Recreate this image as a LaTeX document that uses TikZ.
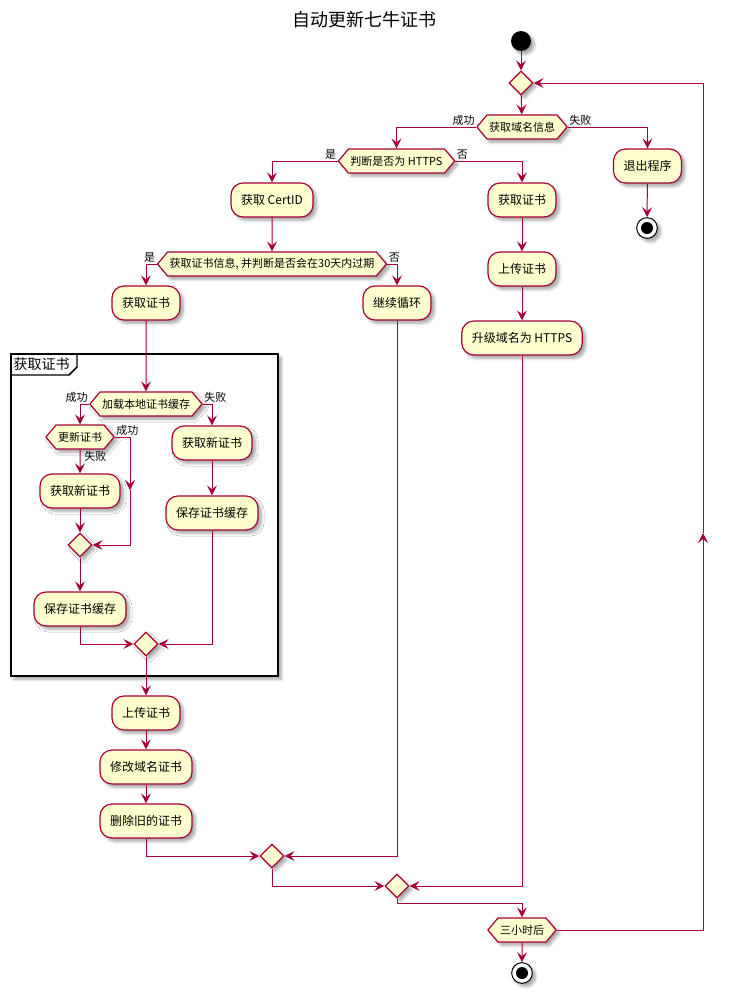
\documentclass[tikz,border=0pt]{standalone}
\usepackage{fontspec}
\setmainfont{Noto Sans CJK SC}
\usepackage{tikz}
\usetikzlibrary{arrows.meta,positioning,calc,shapes.geometric,shapes.symbols,shadows.blur}
\definecolor{umlred}{HTML}{A80036}
\definecolor{umlfill}{HTML}{FEFECE}

\begin{document}
\begin{tikzpicture}[
  x=0.75pt, y=-0.75pt,
  arr/.style={-{Stealth[length=7.5pt,width=7.5pt,inset=3pt]}, draw=umlred, line width=0.75pt},
  shad/.style={blur shadow={shadow xshift=2.5pt, shadow yshift=-2.5pt, shadow blur steps=6, shadow opacity=35}},
  act/.style={shad, draw=umlred, fill=umlfill, line width=0.9pt, rounded corners=9pt,
    font=\fontsize{9}{11}\selectfont, minimum height=25.5pt, inner xsep=7.5pt},
  dec/.style={shad, signal, signal to=west and east, signal pointer angle=100,
    draw=umlred, fill=umlfill, line width=0.9pt, font=\fontsize{8.25}{10}\selectfont,
    minimum height=18pt, inner xsep=1.5pt},
  mrg/.style={shad, diamond, draw=umlred, fill=umlfill, line width=0.9pt, minimum size=18pt, inner sep=0pt},
  stopn/.style={shad, circle, draw=black, line width=0.75pt, fill=white, minimum size=15.5pt, inner sep=0pt,
    path picture={\fill[black] (path picture bounding box.center) circle (4.5pt);}},
  lab/.style={font=\fontsize{8.25}{10}\selectfont, inner sep=1pt}
]
\useasboundingbox (0,0) rectangle (728,992);

% ===== TITLE =====
\node[font=\fontsize{13.5}{16}\selectfont] (title) at (364,20) {自动更新七牛证书};

% ===== GROUP FRAME =====
\draw[line width=1.5pt, fill=white, shad] (11,354) rectangle (278,676);
\draw[line width=1.1pt] (11,375) -- (69,375) -- (77,367) -- (77,354);
\node[font=\fontsize{10.5}{12}\selectfont, anchor=west, inner sep=1pt] (grp) at (12,364) {获取证书};

% ===== MAIN LOOP =====
\node[shad, circle, fill=black, minimum size=15pt, inner sep=0pt] (start) at (521,41) {};
\node[mrg] (loop) at (521,83) {};
\node[dec] (getdom) at (522,127) {获取域名信息};
\node[dec] (ishttps) at (396.5,161) {判断是否为 HTTPS};
\node[act] (quit) at (647.5,166) {退出程序};
\node[stopn] (stop1) at (647,228) {};

% ===== HTTPS BRANCHES =====
\node[act] (certid) at (272,200) {获取 CertID};
\node[act] (getcert) at (522,200) {获取证书};
\node[act] (upcert) at (522,269) {上传证书};
\node[act] (uphttps) at (522,338) {升级域名为 HTTPS};
\node[dec] (expire) at (272,264) {获取证书信息, 并判断是否会在30天内过期};
\node[act] (fetch) at (146,303) {获取证书};
\node[act] (goon) at (397,303) {继续循环};

% ===== CERT CACHE =====
\node[dec] (loadc) at (146,404) {加载本地证书缓存};
\node[dec] (renew) at (80,437) {更新证书};
\node[act] (newa) at (80,491) {获取新证书};
\node[mrg] (m1) at (80,545) {};
\node[act] (savea) at (80,609) {保存证书缓存};
\node[act] (newb) at (212,443) {获取新证书};
\node[act] (saveb) at (212,513) {保存证书缓存};
\node[mrg] (m2) at (146,644) {};
\coordinate (rc) at (130,490);

% ===== AFTER FETCH =====
\node[act] (upload) at (146,713) {上传证书};
\node[act] (modify) at (146,767) {修改域名证书};
\node[act] (delold) at (146,821) {删除旧的证书};
\node[mrg] (m3) at (272,856) {};
\node[mrg] (m4) at (397,886) {};
\node[dec] (wait) at (522,930) {三小时后};
\node[stopn] (stop2) at (522,973) {};
\coordinate (back) at (703,533);

% ===== LABELS =====
\node[lab, anchor=south east] (l_ok1) at (getdom.west) {成功};
\node[lab, anchor=south west] (l_fail1) at (getdom.east) {失败};
\node[lab, anchor=south east] (l_yes1) at (ishttps.west) {是};
\node[lab, anchor=south west] (l_no1) at (ishttps.east) {否};
\node[lab, anchor=south east] (l_yes2) at (expire.west) {是};
\node[lab, anchor=south west] (l_no2) at (expire.east) {否};
\node[lab, anchor=south east] (l_ok2) at (loadc.west) {成功};
\node[lab, anchor=south west] (l_fail2) at (loadc.east) {失败};
\node[lab, anchor=south west] (l_ok3) at (renew.east) {成功};
\node[lab, anchor=north west, xshift=2pt] (l_fail3) at (renew.south) {失败};

% ===== CONNECTORS =====
\draw[arr] (start) -- (loop);
\draw[arr] (loop) -- (getdom);
\draw[arr] (getdom.west) -| (ishttps.north);
\draw[arr] (getdom.east) -| (quit.north);
\draw[arr] (quit) -- (stop1);
\draw[arr] (ishttps.west) -| (certid.north);
\draw[arr] (ishttps.east) -| (getcert.north);
\draw[arr] (getcert) -- (upcert);
\draw[arr] (upcert) -- (uphttps);
\draw[arr] (certid) -- (expire);
\draw[arr] (expire.west) -| (fetch.north);
\draw[arr] (expire.east) -| (goon.north);
\draw[arr] (fetch) -- (loadc);
\draw[arr] (loadc.west) -| (renew.north);
\draw[arr] (loadc.east) -| (newb.north);
\draw[arr] (renew) -- (newa);
\draw[arr] (renew.east) -| (rc);
\draw[arr] (rc) |- (m1.east);
\draw[arr] (newa) -- (m1);
\draw[arr] (m1) -- (savea);
\draw[arr] (savea.south) |- (m2.west);
\draw[arr] (newb) -- (saveb);
\draw[arr] (saveb.south) |- (m2.east);
\draw[arr] (m2) -- (upload);
\draw[arr] (upload) -- (modify);
\draw[arr] (modify) -- (delold);
\draw[arr] (delold.south) |- (m3.west);
\draw[arr] (goon.south) |- (m3.east);
\draw[arr] (m3.south) |- (m4.west);
\draw[arr] (uphttps.south) |- (m4.east);
\draw[arr] (m4.south) -- ++(0,5) -| (wait.north);
\draw[arr] (wait) -- (stop2);
\draw[arr] (wait.east) -| (back);
\draw[arr] (back) |- (loop.east);

\end{tikzpicture}
\end{document}
